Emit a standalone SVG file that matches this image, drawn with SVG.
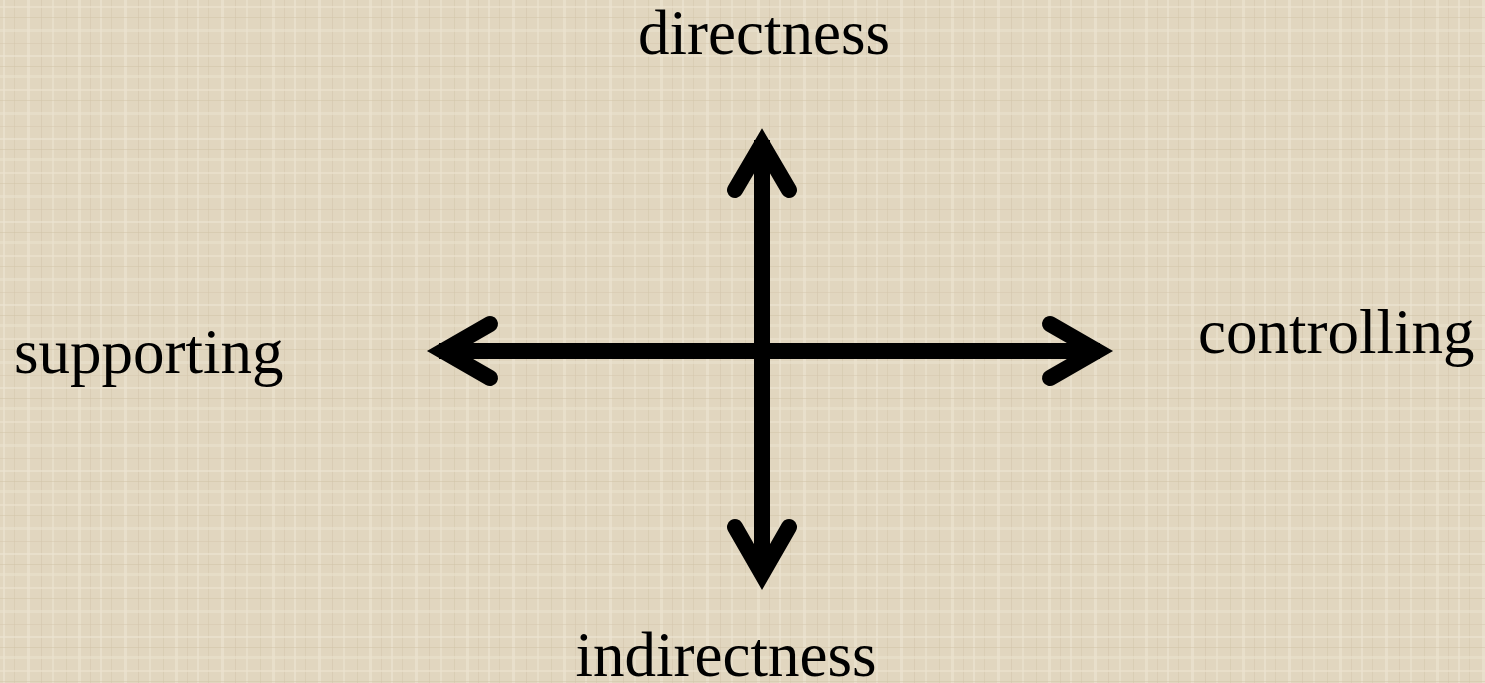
<svg xmlns="http://www.w3.org/2000/svg" width="1485" height="683" viewBox="0 0 1485 683">
  <defs>
    <pattern id="weave" x="0" y="0" width="97" height="83" patternUnits="userSpaceOnUse">
      <rect width="97" height="83" fill="#e1d6bf"/>
      <rect x="3" y="0" width="2" height="83" fill="#ece3d1" opacity="0.7"/>
      <rect x="14" y="0" width="1" height="83" fill="#d3c6ab" opacity="0.5"/>
      <rect x="27" y="0" width="3" height="83" fill="#ede5d4" opacity="0.6"/>
      <rect x="41" y="0" width="1" height="83" fill="#cfc2a7" opacity="0.45"/>
      <rect x="52" y="0" width="2" height="83" fill="#eae1ce" opacity="0.7"/>
      <rect x="66" y="0" width="1" height="83" fill="#d2c5aa" opacity="0.5"/>
      <rect x="78" y="0" width="3" height="83" fill="#ece4d2" opacity="0.6"/>
      <rect x="90" y="0" width="1" height="83" fill="#d0c3a8" opacity="0.45"/>
      <rect x="0" y="6" width="97" height="2" fill="#ece3d1" opacity="0.6"/>
      <rect x="0" y="17" width="97" height="1" fill="#d1c4a8" opacity="0.5"/>
      <rect x="0" y="29" width="97" height="3" fill="#ebe2cf" opacity="0.55"/>
      <rect x="0" y="43" width="97" height="1" fill="#d3c6aa" opacity="0.45"/>
      <rect x="0" y="55" width="97" height="2" fill="#ede5d3" opacity="0.6"/>
      <rect x="0" y="66" width="97" height="1" fill="#cfc2a6" opacity="0.5"/>
      <rect x="0" y="75" width="97" height="3" fill="#eae1ce" opacity="0.55"/>
    </pattern>
    <style>
      .lbl { font-family: "Liberation Serif", "Times New Roman", serif; font-size: 63px; fill: #000; }
      .ax { fill: none; stroke: #000; stroke-width: 16; stroke-linecap: round; stroke-linejoin: miter; stroke-miterlimit: 10; }
      .shaft { fill: none; stroke: #000; stroke-width: 16; stroke-linecap: butt; }
    </style>
  </defs>
  <rect width="1485" height="683" fill="url(#weave)"/>

  <g id="connectors">
    <line class="shaft" x1="762" y1="140" x2="762" y2="576"/>
    <line class="shaft" x1="439" y1="351" x2="1100" y2="351"/>
    <polyline class="ax" points="735,190 762,144 789,190"/>
    <polyline class="ax" points="735,527 762,574 789,527"/>
    <polyline class="ax" points="490,324 443,351 490,378"/>
    <polyline class="ax" points="1050,324 1097,351 1050,378"/>
  </g>

  <g id="node-directness"><text class="lbl" x="764" y="54" text-anchor="middle">directness</text></g>
  <g id="node-indirectness"><text class="lbl" x="726" y="676" text-anchor="middle">indirectness</text></g>
  <g id="node-supporting"><text class="lbl" x="14" y="373">supporting</text></g>
  <g id="node-controlling"><text class="lbl" x="1198" y="353">controlling</text></g>
</svg>
